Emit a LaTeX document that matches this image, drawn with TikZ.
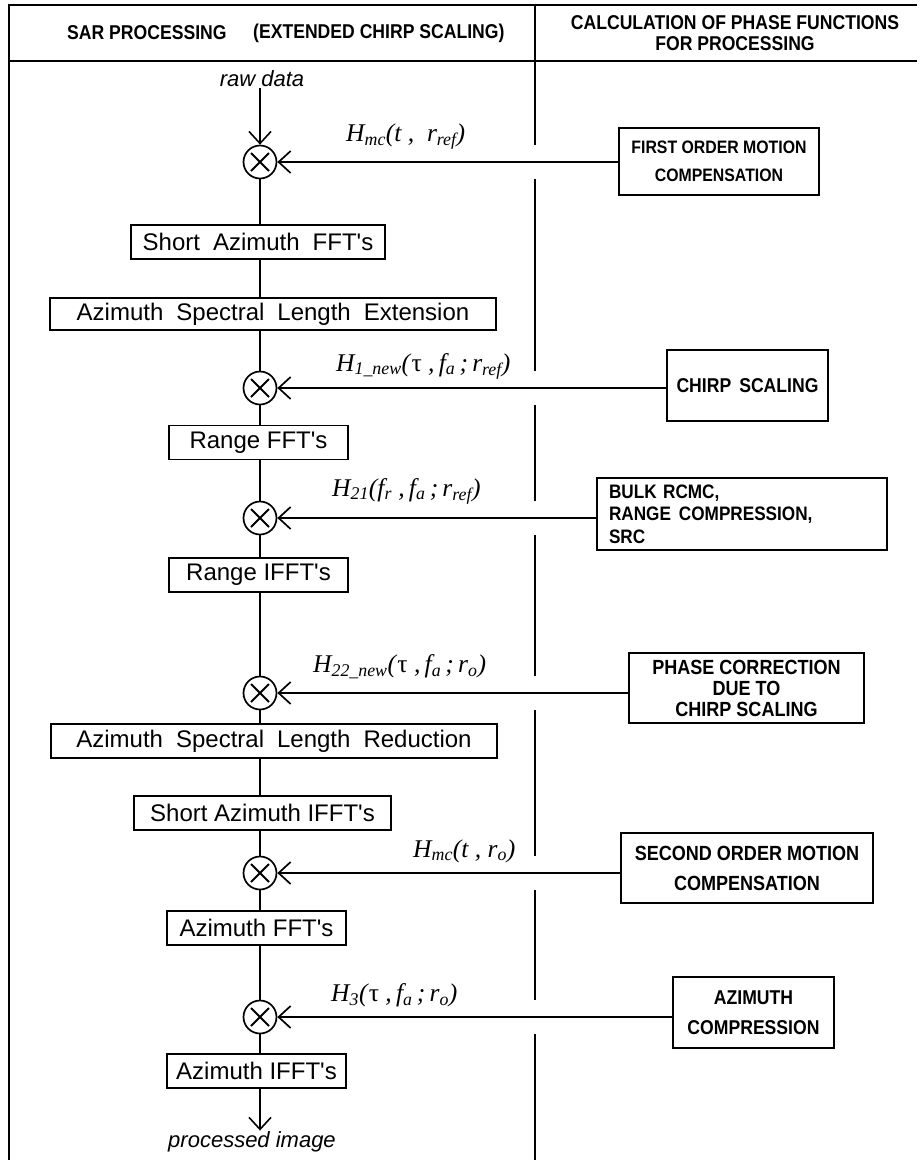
\documentclass[tikz,border=0pt]{standalone}
\usepackage{fontspec}
\setmainfont{Liberation Serif}
\newfontfamily\hdfont[FakeStretch=0.88]{Liberation Sans}
\newfontfamily\bxfont{Liberation Sans}
\usetikzlibrary{arrows.meta}
\newcommand\sbx[1]{\textsubscript{#1}}
\newcommand\ws{\hspace{13pt}}
\begin{document}
\begin{tikzpicture}[x=1pt,y=-1pt,
  framestyle/.style={line width=1.4pt},
  hdr/.style={inner sep=0pt, font=\hdfont\bfseries\fontsize{20}{21}\selectfont},
  lbox/.style={draw, line width=1.9pt, inner sep=0pt, minimum height=34pt, font=\bxfont\fontsize{24}{26}\selectfont},
  rbox/.style={draw, line width=1.9pt, inner sep=0pt, align=center},
  multnode/.style={circle, draw, line width=1.7pt, minimum size=33pt, inner sep=0pt,
    path picture={\draw[line width=1.9pt]
      ([shift={(-9pt,-9pt)}]path picture bounding box.center) -- ([shift={(9pt,9pt)}]path picture bounding box.center)
      ([shift={(-9pt,9pt)}]path picture bounding box.center) -- ([shift={(9pt,-9pt)}]path picture bounding box.center);}},
  flowline/.style={line width=1.6pt},
  flowarrow/.style={line width=1.6pt, -{Straight Barb[length=12pt,width=22pt,line width=1.6pt]}},
  feedarrow/.style={line width=1.9pt, -{Straight Barb[length=12pt,width=22pt,line width=1.7pt]}},
  lablbl/.style={font=\fontsize{25.5}{27}\selectfont\itshape, anchor=west, inner sep=0pt},
  ionote/.style={font=\bxfont\itshape\fontsize{22}{24}\selectfont, inner sep=1pt},
  gapfill/.style={fill=white, draw=none}
]
\useasboundingbox (0,0) rectangle (919,1160);

% frame
\draw[framestyle] (9,1160) -- (9,5) -- (917,5);
\draw[framestyle] (9,61) -- (917,61);
\draw[framestyle] (535,5) -- (535,1160);

% header
\node[hdr, anchor=west] (h1) at (67,33) {SAR PROCESSING};
\node[hdr, anchor=west] (h2) at (253,33) {(EXTENDED CHIRP SCALING)};
\node[hdr, align=center] (h3) at (735,33) {CALCULATION OF PHASE FUNCTIONS\\FOR PROCESSING};

% left column
\node[ionote] (raw) at (262,79) {raw data};
\node[multnode] (m1) at (260,162) {};
\node[lbox, minimum width=254pt] (b1) at (258,242) {Short\ws Azimuth\ws FFT's};
\node[lbox, minimum width=446pt, minimum height=32pt] (b2) at (273,314) {Azimuth\ws Spectral\ws Length\ws Extension};
\node[multnode] (m2) at (260,388) {};
\node[lbox, minimum width=179pt] (b3) at (258.5,442.5) {Range FFT's};
\node[multnode] (m3) at (260,518) {};
\node[lbox, minimum width=179pt] (b4) at (258.5,575) {Range IFFT's};
\node[multnode] (m4) at (260,693) {};
\node[lbox, minimum width=446pt] (b5) at (274,741) {Azimuth\ws Spectral\ws Length\ws Reduction};
\node[lbox, minimum width=257pt] (b6) at (262.5,813) {Short Azimuth IFFT's};
\node[multnode] (m5) at (260,873) {};
\node[lbox, minimum width=179pt] (b7) at (256.5,928) {Azimuth FFT's};
\node[multnode] (m6) at (260,1017) {};
\node[lbox, minimum width=179pt] (b8) at (256.5,1071) {Azimuth IFFT's};
\node[ionote] (proc) at (252,1142) {processed image};

% flow connectors
\draw[flowarrow] (raw.south -| m1.north) -- (m1.north);
\draw[flowline] (m1.south) -- (m1.south |- b1.north);
\draw[flowline] (m1.south |- b1.south) -- (m1.south |- b2.north);
\draw[flowline] (m2.north |- b2.south) -- (m2.north);
\draw[flowline] (m2.south) -- (m2.south |- b3.north);
\draw[flowline] (m3.north |- b3.south) -- (m3.north);
\draw[flowline] (m3.south) -- (m3.south |- b4.north);
\draw[flowline] (m4.north |- b4.south) -- (m4.north);
\draw[flowline] (m4.south) -- (m4.south |- b5.north);
\draw[flowline] (m4.south |- b5.south) -- (m4.south |- b6.north);
\draw[flowline] (m5.north |- b6.south) -- (m5.north);
\draw[flowline] (m5.south) -- (m5.south |- b7.north);
\draw[flowline] (m6.north |- b7.south) -- (m6.north);
\draw[flowline] (m6.south) -- (m6.south |- b8.north);
\draw[flowarrow] (m6.south |- b8.south) -- (m6.south |- proc.north);

% right column
\node[rbox, minimum width=200pt, minimum height=67pt, font=\hdfont\bfseries\fontsize{18}{28}\selectfont] (r1) at (719,161.5) {FIRST ORDER MOTION\\COMPENSATION};
\node[rbox, minimum width=161pt, minimum height=71pt, font=\hdfont\bfseries\fontsize{20}{22}\selectfont] (r2) at (747.5,385.5) {CHIRP\hspace{8pt}SCALING};
\node[rbox, minimum width=290pt, minimum height=72pt, font=\hdfont\bfseries\fontsize{19.5}{22.5}\selectfont, align=left, text width=266pt] (r3) at (742,514) {BULK RCMC,\\RANGE\hspace{8pt}COMPRESSION,\\SRC};
\node[rbox, minimum width=235pt, minimum height=70pt, font=\hdfont\bfseries\fontsize{20.5}{21}\selectfont] (r4) at (746.5,688) {PHASE CORRECTION\\DUE TO\\CHIRP SCALING};
\node[rbox, minimum width=252pt, minimum height=70pt, font=\hdfont\bfseries\fontsize{20.5}{30}\selectfont] (r5) at (747,868) {SECOND ORDER MOTION\\COMPENSATION};
\node[rbox, minimum width=161pt, minimum height=71pt, font=\hdfont\bfseries\fontsize{20}{30}\selectfont] (r6) at (753.5,1012.5) {AZIMUTH\\COMPRESSION};

% gaps in divider where feed lines cross
\foreach \yy in {162,388,518,693,873,1017}
  \fill[gapfill] (529,\yy-17) rectangle (541,\yy+17);

% feed arrows
\draw[feedarrow] (m1.east -| r1.west) -- (m1.east);
\draw[feedarrow] (m2.east -| r2.west) -- (m2.east);
\draw[feedarrow] (m3.east -| r3.west) -- (m3.east);
\draw[feedarrow] (m4.east -| r4.west) -- (m4.east);
\draw[feedarrow] (m5.east -| r5.west) -- (m5.east);
\draw[feedarrow] (m6.east -| r6.west) -- (m6.east);

% labels
\node[lablbl] (l1) at (346,137) {H\sbx{mc}(t\ ,\ \ r\sbx{ref})};
\node[lablbl] (l2) at (336,366) {H\sbx{1\_new}(\textup{τ}\ ,\,f\sbx{a}\,;\,r\sbx{ref})};
\node[lablbl] (l3) at (332,491) {H\sbx{21}(f\sbx{r}\ ,\,f\sbx{a}\,;\,r\sbx{ref})};
\node[lablbl] (l4) at (313,667) {H\sbx{22\_new}(\textup{τ}\ ,\,f\sbx{a}\,;\,r\sbx{o})};
\node[lablbl] (l5) at (413,851) {H\sbx{mc}(t\ ,\ r\sbx{o})};
\node[lablbl] (l6) at (331,995) {H\sbx{3}(\textup{τ}\ ,\,f\sbx{a}\,;\,r\sbx{o})};
\end{tikzpicture}
\end{document}
